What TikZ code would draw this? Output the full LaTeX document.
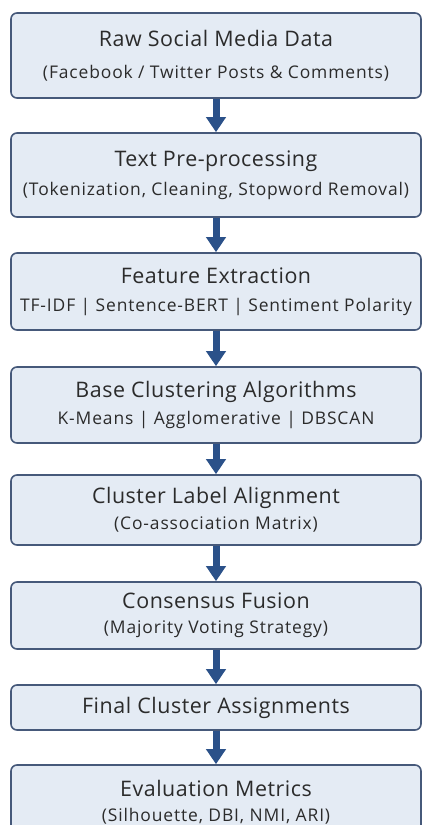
\documentclass[tikz,border=0pt]{standalone}
\usepackage{fontspec}
\setmainfont{Open Sans}
\usetikzlibrary{arrows.meta}

\definecolor{boxfill}{HTML}{E4EBF4}
\definecolor{boxedge}{HTML}{46597A}
\definecolor{flowblue}{HTML}{2B5189}
\definecolor{inktext}{HTML}{2B2B2B}

\newcommand{\ttl}[1]{{\fontsize{21.5}{21}\selectfont\addfontfeatures{LetterSpace=2.5}#1}}
\newcommand{\subl}[1]{{\fontsize{17.5}{21}\selectfont\addfontfeatures{LetterSpace=5}#1}}

\begin{document}
\begin{tikzpicture}[x=1bp,y=-1bp,
  stagebox/.style={draw=boxedge, line width=1.6bp, fill=boxfill,
    rounded corners=6bp, minimum width=410bp, align=center,
    text=inktext, inner sep=0pt,
    font=\fontsize{17.5}{21}\selectfont},
  flow/.style={draw=flowblue, line width=7bp,
    -{Triangle[width=19bp,length=15bp]}}]
  \useasboundingbox (0,0) rectangle (422,825);
  \fill[white] (0,0) rectangle (422,825);
  \begin{scope}
  \clip (0,0) rectangle (422,825);

  \node[stagebox, minimum height=85bp] (raw) at (216,55.5)
    {\ttl{Raw Social Media Data}\\[11bp]\subl{(Facebook / Twitter Posts \& Comments)}};
  \node[stagebox, minimum height=84bp] (prep) at (216,175)
    {\ttl{Text Pre-processing}\\[8bp]\subl{(Tokenization, Cleaning, Stopword Removal)}};
  \node[stagebox, minimum height=77bp] (feat) at (216,291.5)
    {\ttl{Feature Extraction}\\[7bp]\subl{TF-IDF | Sentence-BERT | Sentiment Polarity}};
  \node[stagebox, minimum height=76bp] (base) at (216,405)
    {\ttl{Base Clustering Algorithms}\\[6bp]\subl{K-Means | Agglomerative | DBSCAN}};
  \node[stagebox, minimum height=70bp] (align) at (216,510)
    {\ttl{Cluster Label Alignment}\\[5bp]\subl{(Co-association Matrix)}};
  \node[stagebox, minimum height=67bp] (fuse) at (216,615.5)
    {\ttl{Consensus Fusion}\\[4bp]\subl{(Majority Voting Strategy)}};
  \node[stagebox, minimum height=45bp] (final) at (216,707.5)
    {\ttl{Final Cluster Assignments}};
  \node[stagebox, minimum height=75bp] (eval) at (216,802.5)
    {\ttl{Evaluation Metrics}\\[4bp]\subl{(Silhouette, DBI, NMI, ARI)}};

  \draw[flow] (raw.south) -- (prep.north);
  \draw[flow] (prep.south) -- (feat.north);
  \draw[flow] (feat.south) -- (base.north);
  \draw[flow] (base.south) -- (align.north);
  \draw[flow] (align.south) -- (fuse.north);
  \draw[flow] (fuse.south) -- (final.north);
  \draw[flow] (final.south) -- (eval.north);
  \end{scope}
\end{tikzpicture}
\end{document}
